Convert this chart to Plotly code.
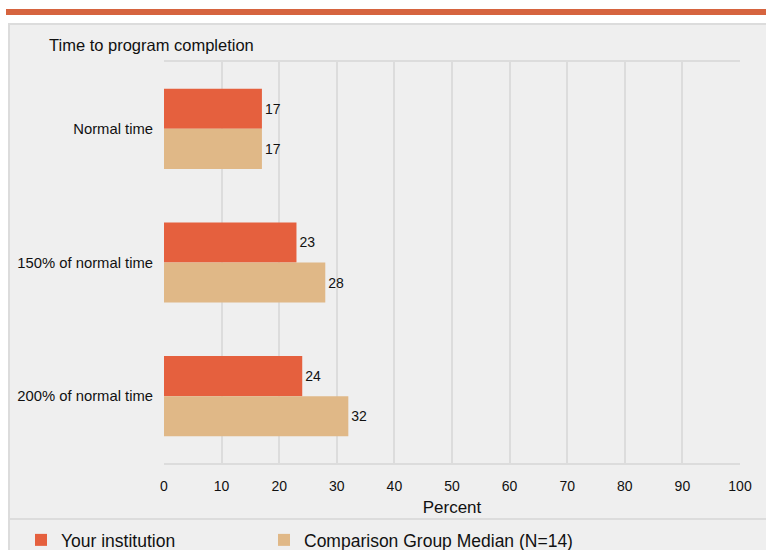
import plotly.graph_objects as go

categories = ["Normal time", "150% of normal time", "200% of normal time"]
your_institution = [17, 23, 24]
comparison_median = [17, 28, 32]
series_names = ["Your institution", "Comparison Group Median (N=14)"]
x_ticks = list(range(0, 101, 10))

W, H = 766, 550
def px(x):
    return x / W
def py(y):
    return 1 - y / H

FONT = "Liberation Sans, Arial, sans-serif"
RED = "#E5603E"
TAN = "#E0B887"

fig = go.Figure()
fig.add_trace(go.Bar(
    y=categories, x=your_institution, name=series_names[0], orientation="h",
    marker=dict(color=RED, line=dict(width=0)),
    text=[str(v) for v in your_institution], textposition="outside",
    textfont=dict(size=14, color="#111", family=FONT), cliponaxis=False,
    legend="legend",
))
fig.add_trace(go.Bar(
    y=categories, x=comparison_median, name=series_names[1], orientation="h",
    marker=dict(color=TAN, line=dict(width=0)),
    text=[str(v) for v in comparison_median], textposition="outside",
    textfont=dict(size=14, color="#111", family=FONT), cliponaxis=False,
    legend="legend2",
))

shapes = [
    dict(type="rect", xref="paper", yref="paper", x0=px(6), x1=px(770), y0=py(15), y1=py(9),
         fillcolor="#D6643F", line=dict(width=0), layer="below"),
    dict(type="rect", xref="paper", yref="paper", x0=px(9), x1=px(780), y0=py(600), y1=py(24),
         fillcolor="#EFEFEF", line=dict(color="#DCDCDC", width=2), layer="below"),
    dict(type="line", xref="paper", yref="paper", x0=px(9), x1=px(780), y0=py(519), y1=py(519),
         line=dict(color="#DCDCDC", width=2), layer="below"),
]

legend_common = dict(orientation="h", xanchor="left", yanchor="top",
                     font=dict(size=17.5, family=FONT, color="#111"),
                     bgcolor="rgba(0,0,0,0)", itemclick=False, itemdoubleclick=False)

fig.update_layout(
    width=W, height=H,
    margin=dict(l=0, r=0, t=0, b=0, autoexpand=False),
    paper_bgcolor="white",
    plot_bgcolor="rgba(0,0,0,0)",
    font=dict(family=FONT, size=12, color="#111"),
    barmode="group", bargap=0.4, bargroupgap=0,
    shapes=shapes,
    showlegend=True,
    legend=dict(x=px(21), y=py(522), **legend_common),
    legend2=dict(x=px(264), y=py(522), **legend_common),
    annotations=[dict(text="Time to program completion", xref="paper", yref="paper",
                      x=px(47), y=py(45), xanchor="left", yanchor="middle", showarrow=False,
                      font=dict(size=16.5, family=FONT, color="#111"))],
    xaxis=dict(domain=[px(164), px(740)], range=[0, 100], tickvals=x_ticks,
               showgrid=True, gridcolor="#DCDCDC", gridwidth=2,
               showline=True, linecolor="#DCDCDC", linewidth=2, mirror=True,
               zeroline=False, ticks="", ticklabelstandoff=9,
               tickfont=dict(size=14, family=FONT, color="#111"),
               title=dict(text="Percent", font=dict(size=17, family=FONT, color="#111"), standoff=8),
               fixedrange=True),
    yaxis=dict(domain=[py(463), py(62)], categoryorder="array", categoryarray=categories,
               autorange="reversed", showgrid=False, showline=False, zeroline=False,
               ticks="", ticklabelstandoff=10,
               tickfont=dict(size=14.8, family=FONT, color="#111"), fixedrange=True),
)

fig.write_html("out.html")
